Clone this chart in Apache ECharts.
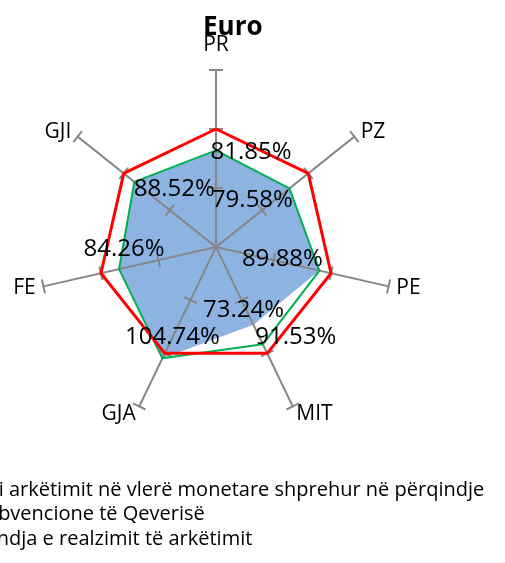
<!DOCTYPE html>
<html>
<head>
<meta charset="utf-8">
<script src="https://cdn.jsdelivr.net/npm/echarts@6/dist/echarts.min.js"></script>
<style>
    html, body { margin: 0; padding: 0; background: #fff; }
    #chart { width: 505px; height: 563px; }
</style>
</head>
<body>
<div id="chart"></div>
<script>
// te dhenat, ne rendin e Excel-it (ne drejtim te akrepave te ores, nga lart)
const indicators = ['PR', 'PZ', 'PE', 'MIT', 'GJA', 'FE', 'GJI'];
const planValues = [100, 100, 100, 100, 100, 100, 100];
const greenValues = [81.85, 79.58, 89.88, 91.53, 104.74, 84.26, 88.52];
const blueValues = [81.85, 79.58, 89.88, 73.24, 104.74, 84.26, 88.52];
const axisMax = 150;
const tickValues = [50, 100, 150];
const legendNames = [
    'Plani i arkëtimit në vlerë monetare shprehur në përqindje',
    'Pa subvencione të Qeverisë',
    'Përqindja e realzimit të arkëtimit'
];

const font = 'Open Sans';

// echarts i vendos treguesit kundër akrepave, prandaj i rirendisim
const order = [0, 6, 5, 4, 3, 2, 1];
const reorder = arr => order.map(i => arr[i]);

// vendosja e etiketave (zhvendosje nga pika)
const labelPlaces = [
    { values: greenValues, idx: 0, offset: [35, 2] },
    { values: greenValues, idx: 1, offset: [-37, 12] },
    { values: greenValues, idx: 2, offset: [-37, -11] },
    { values: greenValues, idx: 3, offset: [33, -7] },
    { values: greenValues, idx: 4, offset: [10, -21] },
    { values: greenValues, idx: 5, offset: [5, -20] },
    { values: greenValues, idx: 6, offset: [40, 7] },
    { values: blueValues, idx: 3, offset: [-10, -15] }
];

let chart = echarts.init(document.getElementById('chart'));

// dy radare te njejte: njeri vizaton vijat dhe njeren ane te shenjave,
// tjetri anen tjeter, qe shenjat te dalin si kryq
function radarBase(tickLen, main) {
    return {
        center: [216, 247],
        radius: 177,
        startAngle: 90,
        splitNumber: 3,
        z: 2,
        indicator: reorder(indicators).map(n => ({
            name: n, min: 0, max: axisMax,
            nameGap: n === 'PR' ? 14 : 8
        })),
        axisName: {
            show: main,
            color: '#000',
            fontFamily: font,
            fontSize: 21
        },
        axisLine: {
            show: true,
            lineStyle: { color: main ? '#878787' : 'rgba(0,0,0,0)', width: 2 }
        },
        axisTick: {
            show: true,
            length: tickLen,
            customValues: tickValues,
            lineStyle: { color: '#878787', width: 2 }
        },
        axisLabel: { show: false },
        splitLine: { show: false },
        splitArea: { show: false }
    };
}

let option = {
    animation: false,
    title: {
        text: 'Euro',
        left: 198,
        top: 10,
        textStyle: {
            fontFamily: font,
            fontSize: 26,
            fontWeight: 'bold',
            color: '#000'
        }
    },
    legend: {
        data: legendNames,
        orient: 'vertical',
        left: -87,
        top: 475,
        itemGap: 4.5,
        itemWidth: 25,
        itemHeight: 14,
        selectedMode: false,
        textStyle: {
            fontFamily: font,
            fontSize: 20,
            lineHeight: 20,
            color: '#000'
        }
    },
    radar: [radarBase(7, true), radarBase(-7, false)],
    series: [
        {
            type: 'radar',
            radarIndex: 0,
            z: 1,
            symbol: 'none',
            silent: true,
            data: [{
                name: legendNames[2],
                value: reorder(blueValues),
                itemStyle: { color: '#8DB3E2' },
                lineStyle: { width: 0, color: '#8DB3E2' },
                areaStyle: { color: '#8DB3E2', opacity: 1 }
            }]
        },
        {
            type: 'radar',
            radarIndex: 0,
            z: 3,
            symbol: 'none',
            silent: true,
            data: [{
                name: legendNames[1],
                value: reorder(greenValues),
                itemStyle: { color: '#00B050' },
                lineStyle: { width: 2, color: '#00B050' }
            }]
        },
        {
            type: 'radar',
            radarIndex: 0,
            z: 3,
            symbol: 'none',
            silent: true,
            data: [{
                name: legendNames[0],
                value: reorder(planValues),
                itemStyle: { color: '#FF0000' },
                lineStyle: { width: 3, color: '#FF0000' }
            }]
        },
        {
            // vetem etiketat e vlerave
            type: 'radar',
            radarIndex: 0,
            z: 4,
            silent: true,
            symbol: 'circle',
            symbolSize: 1,
            itemStyle: { color: 'rgba(0,0,0,0)', borderWidth: 0 },
            lineStyle: { width: 0, opacity: 0 },
            data: labelPlaces.map((p, k) => {
                let target = p.values[p.idx];
                return {
                    name: 'etiketa' + k,
                    value: reorder(p.values),
                    label: {
                        show: true,
                        position: 'inside',
                        offset: p.offset,
                        color: '#000',
                        fontFamily: font,
                        fontSize: 24,
                        formatter: function (params) {
                            return params.value === target ? target.toFixed(2) + '%' : '';
                        }
                    }
                };
            })
        }
    ]
};

chart.setOption(option);
</script>
</body>
</html>
